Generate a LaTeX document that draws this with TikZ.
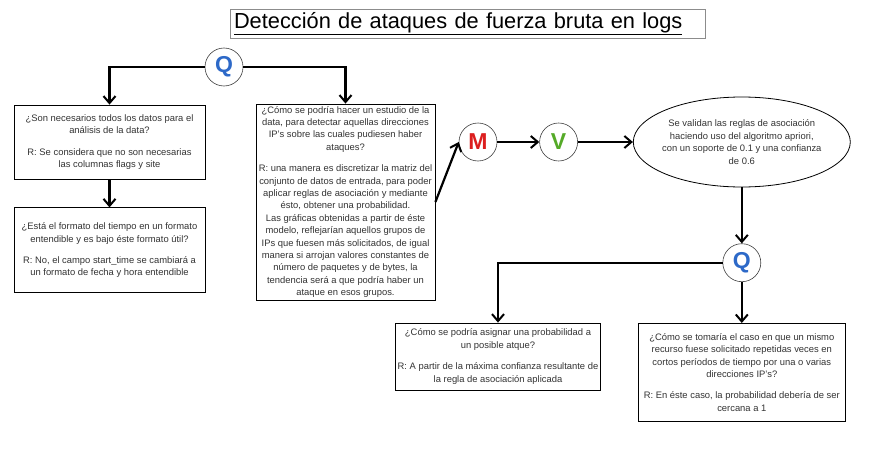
\documentclass[tikz,border=0pt]{standalone}
\usepackage{fontspec}
\setmainfont{Liberation Sans}
\usetikzlibrary{arrows.meta, positioning, shapes.geometric}

\definecolor{qblue}{RGB}{45,105,200}
\definecolor{mred}{RGB}{220,30,30}
\definecolor{vgreen}{RGB}{85,170,40}

\begin{document}
\begin{tikzpicture}[
    x=1pt, y=-1pt,
    qbox/.style={
        rectangle, draw=black, line width=0.8pt, fill=white,
        minimum width=#1, inner sep=2pt, align=center,
        font=\fontsize{9.4}{12.4}\selectfont, text=black!80
    },
    letter/.style={
        circle, draw=black!75, line width=0.6pt, fill=white,
        minimum size=38pt, inner sep=0pt,
        font=\fontsize{23}{23}\selectfont\bfseries, text=#1
    },
    conn/.style={-{Straight Barb[length=7pt, width=12pt, line width=2pt]}, line width=2.2pt}
]
\useasboundingbox (0,0) rectangle (890,452);

% Title
\node[draw=black!45, line width=0.6pt, minimum height=28pt, text width=467pt, inner xsep=4pt,
      align=left, font=\fontsize{21.8}{23}\selectfont] (title) at (467.5,24)
      {\underline{Detección de ataques de fuerza bruta en logs}};

% Left branch
\node[letter=qblue] (q1) at (224,67) {Q};
\node[qbox=191pt, minimum height=74pt] (datos) at (109.5,142)
    {¿Son necesarios todos los datos para el\\ análisis de la data?\\[9pt]
     R: Se considera que no son necesarias\\ las columnas flags y site};
\node[qbox=191pt, minimum height=85pt, below=28pt of datos] (tiempo)
    {¿Está el formato del tiempo en un formato\\ entendible y es bajo éste formato útil?\\[9pt]
     R: No, el campo start\_time se cambiará a\\ un formato de fecha y hora entendible};
\node[qbox=179pt, minimum height=196pt] (estudio) at (345.5,202)
    {¿Cómo se podría hacer un estudio de la\\ data, para detectar aquellas direcciones\\
     IP's sobre las cuales pudiesen haber\\ ataques?\\[9pt]
     R: una manera es discretizar la matriz del\\ conjunto de datos de entrada, para poder\\
     aplicar reglas de asociación y mediante\\ ésto, obtener una probabilidad.\\
     Las gráficas obtenidas a partir de éste\\ modelo, reflejarían aquellos grupos de\\
     IPs que fuesen más solicitados, de igual\\ manera si arrojan valores constantes de\\
     número de paquetes y de bytes, la\\ tendencia será a que podría haber un\\
     ataque en esos grupos.};

% Model and validation
\node[letter=mred] (m) at (478,142) {M};
\node[letter=vgreen, right=42pt of m] (v) {V};
\node[ellipse, draw=black, line width=0.8pt, minimum width=217pt, minimum height=90pt,
      align=center, inner xsep=-12pt, inner ysep=0pt, font=\fontsize{9.4}{12.4}\selectfont,
      text=black!80, right=55pt of v] (apriori)
    {Se validan las reglas de asociación\\ haciendo uso del algoritmo apriori,\\
     con un soporte de 0.1 y una confianza\\ de 0.6};

% Right branch
\node[letter=qblue, below=56pt of apriori] (q2) {Q};
\node[qbox=200pt, minimum height=67pt] (asignar) at (498,356.5)
    {¿Cómo se podría asignar una probabilidad a\\ un posible atque?\\[9pt]
     R: A partir de la máxima confianza resultante de\\ la regla de asociación aplicada};
\node[qbox=207pt, minimum height=98pt, below=41pt of q2] (recurso)
    {¿Cómo se tomaría el caso en que un mismo\\ recurso fuese solicitado repetidas veces en\\
     cortos períodos de tiempo por una o varias\\ direcciones IP's?\\[9pt]
     R: En éste caso, la probabilidad debería de ser\\ cercana a 1};

% Arrows
\draw[conn] (q1.west) -| (datos.north);
\draw[conn] (q1.east) -| (estudio.north);
\draw[conn] (datos) -- (tiempo);
\draw[conn] (estudio.east) -- (m.west);
\draw[conn] (m) -- (v);
\draw[conn] (v) -- (apriori);
\draw[conn] (apriori) -- (q2);
\draw[conn] (q2.west) -| (asignar.north);
\draw[conn] (q2) -- (recurso);

\end{tikzpicture}
\end{document}
